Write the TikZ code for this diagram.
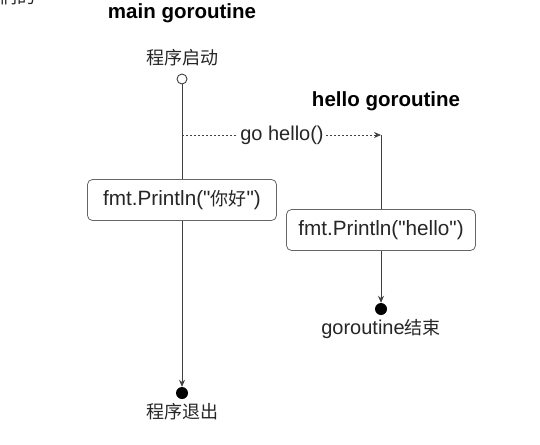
\documentclass[tikz,border=0pt]{standalone}
\usepackage{fontspec}
\newfontfamily\lat{Liberation Sans}
\newfontfamily\cjk{Noto Sans CJK SC}
\usetikzlibrary{arrows.meta}
\newcommand{\qq}{\symbol{34}}
\newcommand{\zh}[1]{{\cjk\fontsize{18}{20}\selectfont #1}}
\begin{document}
\begin{tikzpicture}[x=1pt,y=-1pt,
  lbl/.style={font=\lat\fontsize{20}{22}\selectfont, text=black!85, inner sep=1pt},
  ttl/.style={font=\lat\fontsize{20.5}{22}\selectfont\bfseries, text=black, inner sep=1pt},
  stepbox/.style={draw=black!60, rounded corners=5pt, fill=white, minimum width=189pt, minimum height=41pt, font=\lat\fontsize{20.7}{22}\selectfont, text=black!85, line width=0.8pt},
  ln/.style={draw=black!75, line width=0.9pt},
  tip/.style={-{Stealth[length=7pt,width=6pt]}}
]
\useasboundingbox (0,0) rectangle (540,444);
\fill[white] (0,0) rectangle (540,444);
\begin{scope}
\clip (0,0) rectangle (540,444);
\node[lbl, anchor=west] (frag) at (-2,-3) {\zh{们的}};
\end{scope}
\node[ttl] (t1) at (182,13) {main goroutine};
\node[lbl] (s1) at (182,58) {\zh{程序启动}};
\node[circle, draw=black!75, line width=0.9pt, fill=white, minimum size=10pt, inner sep=0pt] (c0) at (182,79) {};
\node[circle, fill=black, minimum size=12pt, inner sep=0pt] (e1) at (182,393) {};
\node[lbl] (x1) at (182,412) {\zh{程序退出}};
\draw[ln, tip] (c0.south) -- (e1.north);
\node[stepbox] (b1) at (182,200) {fmt.Println(\qq\zh{你好}\qq)};

\node[ttl] (t2) at (386,101) {hello goroutine};
\coordinate (d0) at (182,135);
\coordinate (d1) at (381,135);
\node[stepbox] (b2) at (381,230) {fmt.Println(\qq hello\qq)};
\node[circle, fill=black, minimum size=12pt, inner sep=0pt] (e2) at (381,309) {};
\node[lbl] (x2) at (381,329) {goroutine\zh{结束}};
\draw[ln, dashed, dash pattern=on 2pt off 2pt, line width=0.7pt, tip] (d0) -- (d1);
\node[lbl, fill=white, inner sep=2pt] (g) at (282,135) {go hello()};
\draw[ln] (d1) -- (b2.north);
\draw[ln, tip] (b2.south) -- (e2.north);
\end{tikzpicture}
\end{document}
